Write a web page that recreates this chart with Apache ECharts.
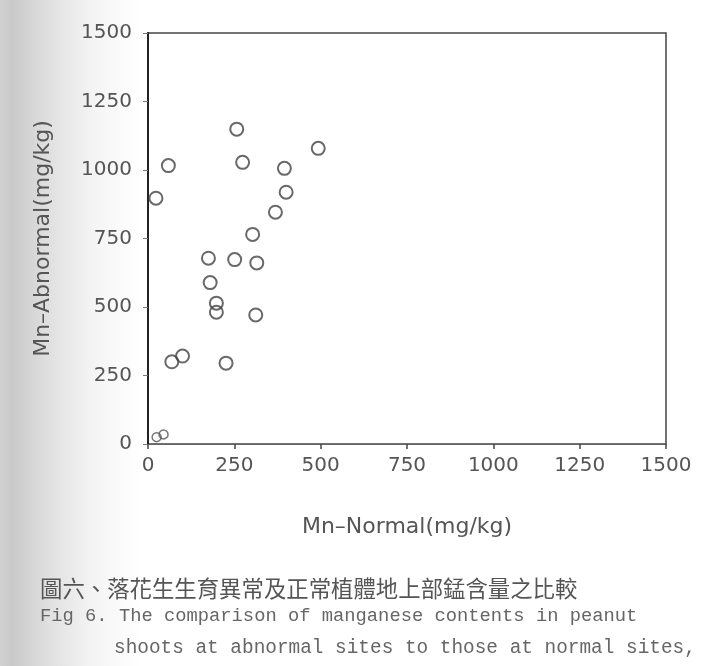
<!DOCTYPE html>
<html>
<head>
<meta charset="utf-8">
<script src="https://cdn.jsdelivr.net/npm/echarts@6/dist/echarts.min.js"></script>
<style>
  html, body { margin: 0; padding: 0; width: 702px; height: 666px; overflow: hidden; }
  body { background: linear-gradient(to right, #d2d2d2 0px, #c9c9c9 12px, #dedede 45px, #f3f3f3 90px, #ffffff 140px); }
  #chart { width: 702px; height: 666px; }
</style>
</head>
<body>
<div id="chart"></div>
<script>
// Mn content at normal sites (x) vs abnormal sites (y), mg/kg
const mnNormal   = [257, 493, 59, 274, 395, 400, 23, 369, 303, 175, 251, 315, 180, 198, 198, 312, 69, 100, 226];
const mnAbnormal = [1149, 1079, 1016, 1028, 1006, 919, 897, 846, 765, 678, 673, 661, 589, 514, 481, 471, 300, 321, 295];
// two overlapping points drawn near the origin
const nearOriginNormal   = [25, 45];
const nearOriginAbnormal = [25, 35];

const axisTicks = [0, 250, 500, 750, 1000, 1250, 1500];
const xAxisName = 'Mn\u2013Normal(mg/kg)';
const yAxisName = 'Mn\u2013Abnormal(mg/kg)';
const captionZh = '圖六、落花生生育異常及正常植體地上部錳含量之比較';
const captionEn1 = 'Fig 6. The comparison of manganese contents in peanut';
const captionEn2 = 'shoots at abnormal sites to those at normal sites,';

const mainPts = mnNormal.map((v, i) => [v, mnAbnormal[i]]);
const originPts = nearOriginNormal.map((v, i) => [v, nearOriginAbnormal[i]]);

const labelFont = { fontFamily: 'DejaVu Sans', fontSize: 20, color: '#555', formatter: v => String(v) };

const chart = echarts.init(document.getElementById('chart'), null, { renderer: 'canvas' });
chart.setOption({
  animation: false,
  backgroundColor: 'transparent',
  grid: {
    left: 148, right: 36, top: 33, bottom: 222,
    show: true, borderColor: '#444', borderWidth: 1.5, backgroundColor: 'transparent'
  },
  xAxis: {
    type: 'value', min: axisTicks[0], max: axisTicks[axisTicks.length - 1], interval: 250,
    name: xAxisName, nameLocation: 'middle', nameGap: 72,
    nameTextStyle: { fontFamily: 'DejaVu Sans', fontSize: 22, color: '#555' },
    axisLine: { show: true, lineStyle: { color: '#666', width: 1 } },
    axisTick: { show: true, length: 5, lineStyle: { color: '#444', width: 1.5 } },
    axisLabel: Object.assign({ margin: 12 }, labelFont),
    splitLine: { show: false }
  },
  yAxis: {
    type: 'value', min: axisTicks[0], max: axisTicks[axisTicks.length - 1], interval: 250,
    name: yAxisName, nameLocation: 'middle', nameGap: 94, nameRotate: 90,
    nameTextStyle: { fontFamily: 'DejaVu Sans', fontSize: 22, color: '#555' },
    axisLine: { show: true, lineStyle: { color: '#222', width: 2 } },
    axisTick: { show: true, length: 5, lineStyle: { color: '#777', width: 1 } },
    axisLabel: Object.assign({ margin: 16 }, labelFont),
    splitLine: { show: false }
  },
  series: [
    {
      type: 'scatter', data: mainPts, symbol: 'circle', symbolSize: 13,
      itemStyle: { color: 'rgba(255,255,255,0)', borderColor: '#444', borderWidth: 2 }
    },
    {
      type: 'scatter', data: originPts, symbol: 'circle', symbolSize: 9,
      itemStyle: { color: 'rgba(255,255,255,0)', borderColor: '#555', borderWidth: 1.5 }
    }
  ],
  graphic: [
    { type: 'text', left: 40, top: 577,
      style: { text: captionZh, font: '22.4px "Noto Sans CJK TC"', fill: '#555' } },
    { type: 'text', left: 40, top: 607,
      style: { text: captionEn1, font: '18.8px "Liberation Mono"', fill: '#666' } },
    { type: 'text', left: 114, top: 638,
      style: { text: captionEn2, font: '19.4px "Liberation Mono"', fill: '#666' } }
  ]
});
</script>
</body>
</html>
